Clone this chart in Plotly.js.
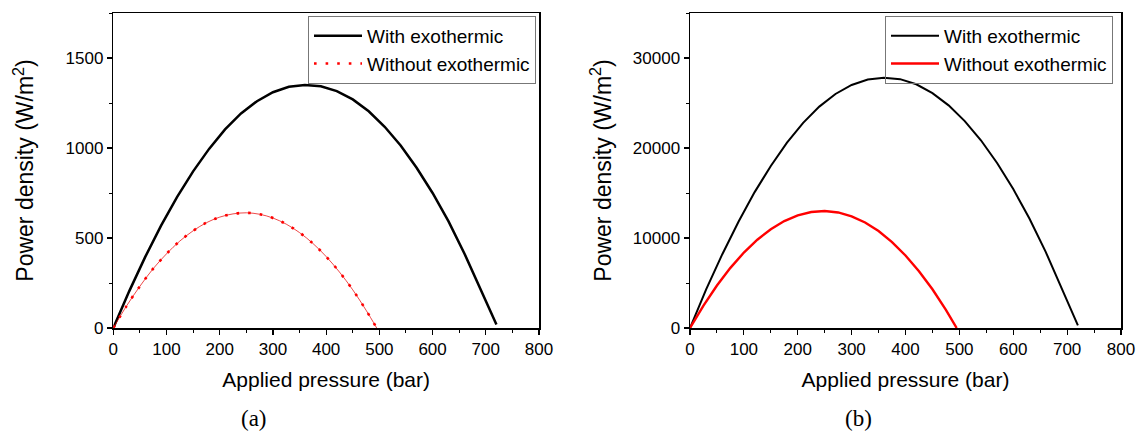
<!DOCTYPE html>
<html>
<head>
<meta charset="utf-8">
<script src="https://cdn.plot.ly/plotly-3.0.1.min.js"></script>
<style>html,body{margin:0;padding:0;background:#fff;}#chart{width:1137px;height:433px;}</style>
</head>
<body>
<div id="chart"></div>
<script>
// Panel (a)
const pressureA_with = [0,30,60,90,120,150,180,210,240,270,300,330,360,390,420,450,480,510,540,570,600,630,660,690,720];
const powerA_with = [0,205,395,570,728,870,995,1103,1192,1260,1310,1340,1350,1343,1316,1270,1204,1118,1014,890,750,592,413,215,20];
const pressureA_without = [0,25,50,75,100,125,150,175,200,225,250,275,300,325,350,375,400,425,450,475,495];
const powerA_without = [0,123,232,330,412,483,540,585,616,634,640,632,611,577,530,470,397,311,212,99,0];
// Panel (b)
const pressureB_with = [0,30,60,90,120,150,180,210,240,270,300,330,360,390,420,450,480,510,540,570,600,630,660,690,720];
const powerB_with = [0,4300,8200,11800,15100,18000,20600,22800,24600,26000,27000,27600,27800,27650,27080,26100,24740,22990,20860,18340,15440,12160,8490,4440,300];
const pressureB_without = [0,25,50,75,100,125,150,175,200,225,250,275,300,325,350,375,400,425,450,475,495];
const powerB_without = [0,2490,4720,6680,8380,9810,10980,11880,12520,12890,13000,12840,12410,11720,10770,9550,8060,6310,4300,2020,0];

const seriesNames = ["With exothermic", "Without exothermic"];
const xTitle = "Applied pressure (bar)";
const yTitle = "Power density (W/m<sup>2</sup>)";
const captions = ["(a)", "(b)"];

const sans = "Arial, 'Liberation Sans', sans-serif";
const serif = "'Times New Roman', 'Liberation Serif', serif";

const traces = [
  {x: pressureA_with, y: powerA_with, mode: "lines", name: seriesNames[0],
   line: {color: "#000", width: 2.5}, xaxis: "x", yaxis: "y", legend: "legend"},
  {x: pressureA_without, y: powerA_without, mode: "lines", showlegend: false, hoverinfo: "skip",
   line: {color: "rgba(230,0,0,0.8)", width: 0.9, shape: "spline"}, xaxis: "x", yaxis: "y"},
  {x: pressureA_without, y: powerA_without, mode: "lines", name: seriesNames[1],
   line: {color: "#ff0000", width: 2.6, dash: "2.6px,9px", shape: "spline"}, xaxis: "x", yaxis: "y", legend: "legend"},
  {x: pressureB_with, y: powerB_with, mode: "lines", name: seriesNames[0],
   line: {color: "#000", width: 2}, xaxis: "x2", yaxis: "y2", legend: "legend2"},
  {x: pressureB_without, y: powerB_without, mode: "lines", name: seriesNames[1],
   line: {color: "#ff0000", width: 2.4}, xaxis: "x2", yaxis: "y2", legend: "legend2"}
];

function xax(domain, anchor) {
  return {
    domain: domain, anchor: anchor, range: [0, 800], dtick: 100, tick0: 0,
    showgrid: false, zeroline: false, showline: true, linecolor: "#000", linewidth: 1.5,
    mirror: true, ticks: "outside", ticklen: 5, tickwidth: 1.2, tickcolor: "#000",
    minor: {dtick: 50, ticks: "outside", ticklen: 3, tickwidth: 1, tickcolor: "#000"},
    tickfont: {family: sans, size: 17, color: "#000"},
    title: {text: xTitle, font: {family: sans, size: 21, color: "#000"}, standoff: 14},
    fixedrange: true
  };
}
function yax(domain, anchor, max, dt, standoff) {
  return {
    domain: domain, anchor: anchor, range: [0, max], dtick: dt, tick0: 0, tickformat: "d",
    showgrid: false, zeroline: false, showline: true, linecolor: "#000", linewidth: 1.5,
    mirror: true, ticks: "outside", ticklen: 5, tickwidth: 1.2, tickcolor: "#000",
    minor: {dtick: dt / 2, ticks: "outside", ticklen: 3, tickwidth: 1, tickcolor: "#000"},
    tickfont: {family: sans, size: 17, color: "#000"},
    title: {text: yTitle, font: {family: sans, size: 23, color: "#000"}, standoff: standoff},
    fixedrange: true
  };
}

const yDom = [105/433, 420/433];
const legendFont = {family: sans, size: 19, color: "#000"};
const layout = {
  width: 1137, height: 433,
  margin: {l: 0, r: 0, t: 0, b: 0},
  paper_bgcolor: "#fff", plot_bgcolor: "#fff",
  xaxis: xax([113.3/1137, 539/1137], "y"),
  yaxis: yax(yDom, "x", 1750, 500, 25),
  xaxis2: xax([690/1137, 1121/1137], "y2"),
  yaxis2: yax(yDom, "x2", 35000, 10000, 15),
  legend: {x: 536/1137, y: (433-16)/433, xanchor: "right", yanchor: "top",
    bordercolor: "#777", borderwidth: 1, bgcolor: "rgba(255,255,255,0)", itemwidth: 48,
    font: legendFont, tracegroupgap: 0},
  legend2: {x: 1113/1137, y: (433-16)/433, xanchor: "right", yanchor: "top",
    bordercolor: "#777", borderwidth: 1, bgcolor: "rgba(255,255,255,0)", itemwidth: 48,
    font: legendFont, tracegroupgap: 0},
  annotations: [
    {text: captions[0], xref: "paper", yref: "paper", x: 254/1137, y: 15/433, xanchor: "center", yanchor: "middle",
     showarrow: false, font: {family: serif, size: 23, color: "#000"}},
    {text: captions[1], xref: "paper", yref: "paper", x: 858/1137, y: 15/433, xanchor: "center", yanchor: "middle",
     showarrow: false, font: {family: serif, size: 23, color: "#000"}}
  ],
  showlegend: true
};

Plotly.newPlot("chart", traces, layout, {displayModeBar: false, staticPlot: true});
</script>
</body>
</html>
